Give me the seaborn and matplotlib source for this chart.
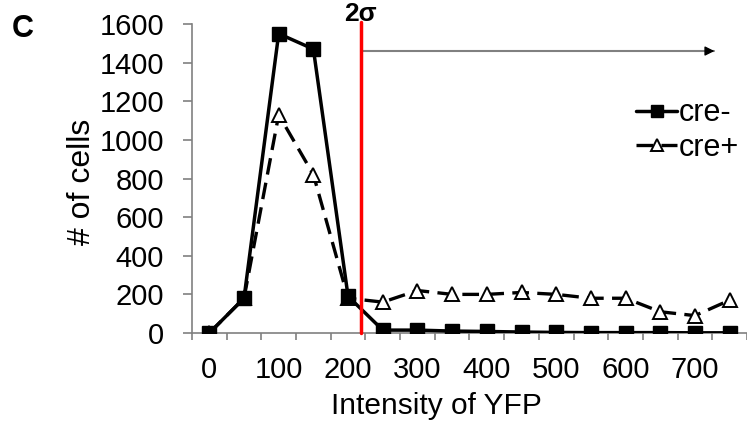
import numpy as np
import matplotlib
matplotlib.use("Agg")
import matplotlib.pyplot as plt
import seaborn as sns

# values
intensity = [0, 50, 100, 150, 200, 250, 300, 350, 400, 450, 500, 550, 600, 650, 700, 750]
cre_minus = [0, 180, 1550, 1470, 190, 15, 15, 10, 8, 5, 3, 2, 2, 2, 1, 1]
cre_plus = [0, 180, 1130, 820, 180, 160, 220, 200, 200, 210, 200, 180, 180, 110, 90, 170]
x_tick_values = [0, 100, 200, 300, 400, 500, 600, 700]
x_tick_labels = ["0", "100", "200", "300", "400", "500", "600", "700"]
y_tick_values = [0, 200, 400, 600, 800, 1000, 1200, 1400, 1600]

threshold = 218     # 2 sigma cut-off on YFP intensity
arrow_end = 728
arrow_y = 1460

sns.set_style("ticks")
plt.rcParams["font.family"] = ["Liberation Sans", "DejaVu Sans"]
plt.rcParams["text.color"] = "black"
plt.rcParams["axes.labelcolor"] = "black"
plt.rcParams["xtick.labelcolor"] = "black"
plt.rcParams["ytick.labelcolor"] = "black"

fig = plt.figure(figsize=(7.47, 4.24), dpi=100)
ax = fig.add_axes([0.257, 0.2146, 0.743, 0.7288])

# cre+ first so the squares sit on top where the two overlap
sns.lineplot(x=intensity, y=cre_plus, ax=ax, color="black", lw=2.4,
             linestyle=(0, (5, 2.5)), marker="^", ms=10.5, mfc="white",
             mec="black", mew=1.4, label="cre+", zorder=3)
sns.lineplot(x=intensity, y=cre_minus, ax=ax, color="black", lw=2.5,
             marker="s", ms=10, mfc="black", mec="black", mew=1,
             label="cre-", zorder=4)

# 2 sigma line and arrow
ax.axvline(threshold, ymin=0, ymax=1.006, color="#ff0000", lw=2.5, clip_on=False, zorder=5)
ax.text(threshold, 1614, "2σ", ha="center", va="baseline", fontsize=19, fontweight="bold")
ax.plot([threshold, arrow_end], [arrow_y, arrow_y], color="0.5", lw=1.5, zorder=2)
ax.annotate("", xy=(arrow_end, arrow_y), xytext=(arrow_end - 12, arrow_y),
            arrowprops=dict(arrowstyle="-|>", color="black", mutation_scale=14,
                            lw=1, shrinkA=0, shrinkB=0))

ax.set_xlim(-25, 775)
ax.set_ylim(0, 1600)
ax.set_xticks(x_tick_values)
ax.set_xticklabels(x_tick_labels)
ax.set_xticks(np.arange(-25, 776, 50), minor=True)
ax.set_yticks(y_tick_values)
ax.tick_params(axis="x", which="major", length=0, pad=16.5, labelsize=21)
ax.tick_params(axis="x", which="minor", length=5, width=1.2, color="0.5", direction="out")
ax.tick_params(axis="y", length=6.5, width=1.2, color="0.5", pad=13.5, labelsize=21, direction="out")

for side in ["top", "right"]:
    ax.spines[side].set_visible(False)
for side in ["left", "bottom"]:
    ax.spines[side].set_color("0.5")
    ax.spines[side].set_linewidth(1.2)

ax.set_xlabel("Intensity of YFP", fontsize=21.5)
ax.set_ylabel("# of cells", fontsize=23)
ax.xaxis.set_label_coords(0.441, -0.19)
ax.yaxis.set_label_coords(-0.171, 0.489)

handles, labels = ax.get_legend_handles_labels()
ax.legend(handles[::-1], labels[::-1], loc="center left", bbox_to_anchor=(0.80, 0.655),
          frameon=False, fontsize=22, handlelength=1.35, handletextpad=0.05,
          labelspacing=0.15, borderpad=0, borderaxespad=0, numpoints=1, markerscale=0.8)

fig.text(12 / 747, 1 - 37 / 424, "C", fontsize=22, fontweight="bold", va="baseline")

fig.savefig("out.png", dpi=100)
